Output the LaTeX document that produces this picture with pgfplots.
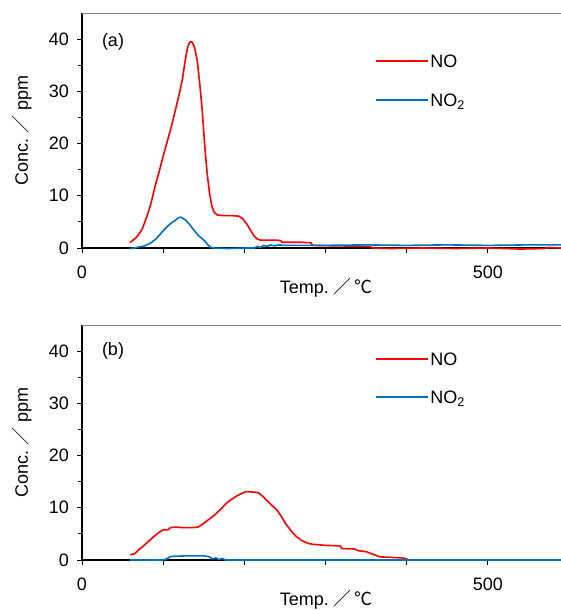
\documentclass[border=0pt]{standalone}
\usepackage{pgfplots}
\pgfplotsset{compat=1.18}
\usepackage{fontspec}
\setmainfont{Liberation Sans}
\newfontfamily\cjk{Noto Sans CJK JP}
\definecolor{noRed}{RGB}{255,0,0}
\definecolor{noBlue}{RGB}{0,112,192}
\tikzset{
  tpdline/.style={line width=1.6pt, line join=round},
  keyline/.style={line width=1.6pt, line cap=butt},
  keytext/.style={black, anchor=base west, inner sep=1.5pt, yshift=-6.4pt},
}

% temperature-programmed desorption, panel (a)
\pgfplotstableread{
T c
59 1.0
62 1.4
66 1.9
70 2.6
74 3.6
78 5.2
82 7.0
86 9.2
90 11.8
95 14.6
100 17.6
105 20.4
110 23.2
115 26.4
120 29.6
124 32.6
127 35.8
130 38.4
133 39.5
136 39.4
139 38.2
142 35.8
145 31.5
148 26.5
151 20.0
154 14.5
157 10.6
160 8.0
163 6.8
167 6.3
175 6.2
185 6.2
193 6.1
198 5.6
203 4.6
208 3.3
212 2.3
216 1.7
220 1.5
240 1.5
245 1.4
246 1.1
270 1.1
282 1.0
284 0.5
320 0.4
355 0.3
358 0.0
380 -0.1
420 0.0
460 -0.1
500 0.0
540 -0.2
570 -0.1
575 0.1
590 0.0
}\noA
\pgfplotstableread{
T c
59 -0.1
65 0.0
70 0.2
75 0.3
80 0.6
85 1.0
90 1.6
95 2.4
100 3.3
105 4.1
110 4.8
115 5.3
119 5.8
122 5.9
125 5.6
128 5.3
132 4.6
136 3.8
140 3.0
144 2.3
148 1.8
152 1.2
155 0.6
158 0.2
162 0.0
180 -0.1
200 0.0
212 0.0
216 0.3
220 0.1
224 0.5
228 0.3
232 0.6
237 0.4
242 0.6
250 0.5
300 0.5
350 0.6
400 0.5
450 0.6
500 0.5
550 0.6
590 0.6
}\notwoA

% panel (b)
\pgfplotstableread{
T c
59 1.0
65 1.2
70 2.0
75 2.6
80 3.3
85 4.0
90 4.7
95 5.3
100 5.8
106 5.8
109 6.2
115 6.3
125 6.2
135 6.2
143 6.3
148 6.8
153 7.4
160 8.2
166 9.0
172 9.9
178 10.9
184 11.6
190 12.2
196 12.7
202 13.1
212 13.0
217 12.9
222 12.3
227 11.5
233 10.6
240 9.6
244 8.7
248 7.7
252 6.7
258 5.5
264 4.5
270 3.8
278 3.2
285 3.0
293 2.9
300 2.8
318 2.7
320 2.2
336 2.1
340 1.8
350 1.6
355 1.3
362 0.9
367 0.6
395 0.4
400 0.2
402 0.0
450 0.0
500 0.0
590 0.0
}\noB
\pgfplotstableread{
T c
59 0.0
100 0.0
104 0.2
107 0.5
110 0.7
130 0.8
150 0.8
157 0.6
161 0.2
165 0.4
169 0.1
173 0.3
177 0.0
200 0.0
590 0.0
}\notwoB

\pgfplotsset{
  tpd/.style={
    scale only axis, width=479pt, height=235pt,
    xmin=0, xmax=590, ymin=0, ymax=45,
    clip=false,
    axis lines*=left,
    axis line style={black, line width=1.2pt, -},
    xtick={0,100,...,500}, xticklabels={0,,,,,500},
    ytick={0,10,...,40}, minor ytick={5,15,25,35},
    tick align=outside,
    major tick length=5pt, minor tick length=4pt,
    tick style={black, line width=1pt},
    /pgf/number format/assume math mode=true,
    xticklabel style={yshift=-7pt},
    yticklabel style={xshift=-2pt},
    xlabel={Temp.\ {\cjk ／}\,{\cjk ℃}},
    ylabel={Conc.\ {\cjk ／}\ ppm},
    xlabel style={at={(axis description cs:0.51,0)}, anchor=center, yshift=-40pt},
    ylabel style={at={(axis description cs:-0.125,0.5)}, anchor=center},
  }
}

\begin{document}
\fontsize{18}{21}\selectfont
\begin{tikzpicture}
\useasboundingbox (0,0) rectangle (561pt,-610pt);

\begin{axis}[tpd, at={(82pt,-13pt)}, anchor=north west]
  \addplot[color=noRed, no marks, tpdline] table[x=T, y=c] {\noA};
  \addplot[color=noBlue, no marks, tpdline] table[x=T, y=c] {\notwoA};
  \draw[gray, line width=0.8pt] (rel axis cs:0,1) -- (rel axis cs:1,1);
  \node[anchor=west] at (axis cs:17,39.5) {(a)};
  % key
  \draw[noRed, keyline] (rel axis cs:0.614,0.796) -- (rel axis cs:0.7226,0.796)
    node[keytext] {NO};
  \draw[noBlue, keyline] (rel axis cs:0.614,0.630) -- (rel axis cs:0.7226,0.630)
    node[keytext] {NO\textsubscript{2}};
\end{axis}

\begin{axis}[tpd, at={(82pt,-325pt)}, anchor=north west]
  \addplot[color=noRed, no marks, tpdline] table[x=T, y=c] {\noB};
  \addplot[color=noBlue, no marks, tpdline] table[x=T, y=c] {\notwoB};
  \draw[gray, line width=0.8pt] (rel axis cs:0,1) -- (rel axis cs:1,1);
  \node[anchor=west] at (axis cs:17,40) {(b)};
  % key
  \draw[noRed, keyline] (rel axis cs:0.614,0.855) -- (rel axis cs:0.7226,0.855)
    node[keytext] {NO};
  \draw[noBlue, keyline] (rel axis cs:0.614,0.694) -- (rel axis cs:0.7226,0.694)
    node[keytext] {NO\textsubscript{2}};
\end{axis}
\end{tikzpicture}
\end{document}
